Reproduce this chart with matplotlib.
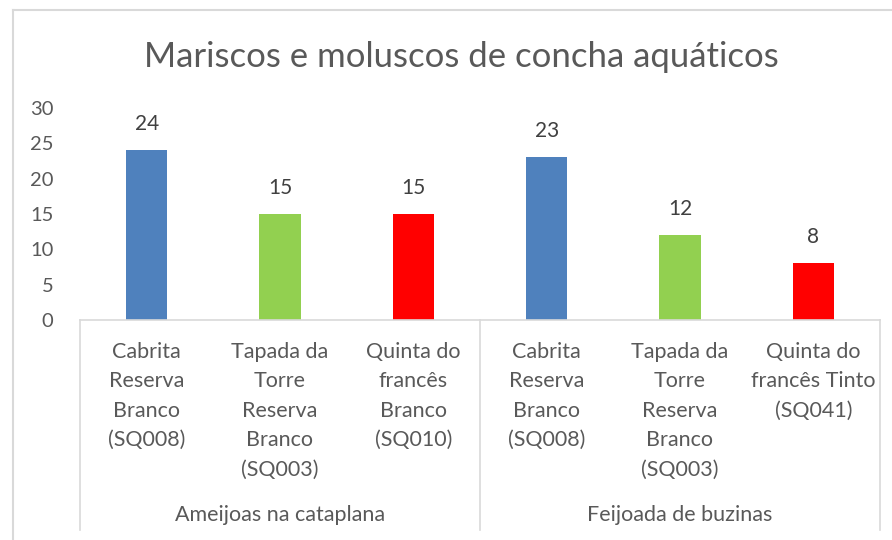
import matplotlib.pyplot as plt
from matplotlib.lines import Line2D
import matplotlib.transforms as mtransforms

# --- dados ---
wine_labels = [
    "Cabrita\nReserva\nBranco\n(SQ008)",
    "Tapada da\nTorre\nReserva\nBranco\n(SQ003)",
    "Quinta do\nfrancês\nBranco\n(SQ010)",
    "Cabrita\nReserva\nBranco\n(SQ008)",
    "Tapada da\nTorre\nReserva\nBranco\n(SQ003)",
    "Quinta do\nfrancês Tinto\n(SQ041)",
]
values = [24, 15, 15, 23, 12, 8]
bar_colors = ["#4f81bd", "#92d050", "#ff0000", "#4f81bd", "#92d050", "#ff0000"]
groups = ["Ameijoas na cataplana", "Feijoada de buzinas"]
group_size = 3
y_ticks = [0, 5, 10, 15, 20, 25, 30]

plt.rcParams['font.family'] = ['Lato', 'DejaVu Sans']
TXT = "#595959"
LINE = "#d9d9d9"

fig = plt.figure(figsize=(8.92, 5.4), dpi=100)
ax = fig.add_axes([80 / 892, 1 - 320 / 540, 800 / 892, 212 / 540])

x = list(range(len(values)))
ax.bar(x, values, width=0.31, color=bar_colors, zorder=2)
for xi, v in zip(x, values):
    ax.annotate(str(v), (xi, v), xytext=(0, 11.5), textcoords="offset points",
                ha="center", va="bottom", fontsize=15, color="#404040")

ax.set_xlim(-0.5, len(values) - 0.5)
ax.set_ylim(0, 30)
ax.set_yticks(y_ticks)
ax.tick_params(axis="y", length=0, pad=19, labelsize=14.5, labelcolor=TXT)
ax.set_xticks([])
for s in ["left", "right", "top"]:
    ax.spines[s].set_visible(False)
ax.spines["bottom"].set_color(LINE)
ax.spines["bottom"].set_linewidth(1.2)

# eixo de categorias em dois níveis
trans = mtransforms.blended_transform_factory(ax.transData, ax.transAxes)
px = 1 / 212  # um pixel em unidades do eixo (vertical)
for xi, lab in zip(x, wine_labels):
    ax.text(xi, -22 * px, lab, transform=trans, ha="center", va="top",
            fontsize=15.5, color=TXT, linespacing=1.59)
for gi, g in enumerate(groups):
    cx = gi * group_size + (group_size - 1) / 2
    ax.text(cx, -195 * px, g, transform=trans, ha="center", va="center",
            fontsize=15.5, color=TXT)
for b in range(len(groups) + 1):
    bx = b * group_size - 0.5
    ax.add_line(Line2D([bx, bx], [0, -210 * px], transform=trans,
                       color=LINE, lw=1.2, clip_on=False))

# moldura do gráfico (só topo e esquerda visíveis)
fig.add_artist(Line2D([13 / 892, 13 / 892], [0, 1 - 10 / 540],
                      transform=fig.transFigure, color=LINE, lw=1.5))
fig.add_artist(Line2D([13 / 892, 1], [1 - 10 / 540, 1 - 10 / 540],
                      transform=fig.transFigure, color=LINE, lw=1.5))

fig.text(461 / 892, 1 - 57 / 540, "Mariscos e moluscos de concha aquáticos",
         ha="center", va="center", fontsize=25, color=TXT)

fig.savefig("out.png", dpi=100)
